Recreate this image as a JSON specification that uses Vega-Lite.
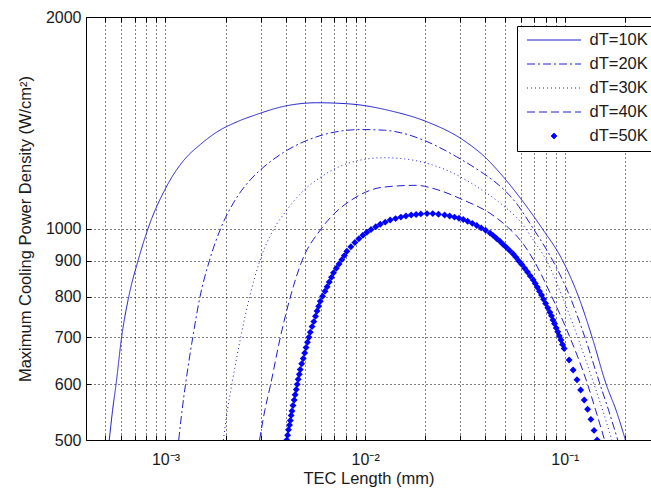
{
  "$schema": "https://vega.github.io/schema/vega-lite/v6.json",
  "width": 565,
  "height": 423,
  "autosize": {"type": "none"},
  "padding": {"left": 86, "top": 17, "right": 0, "bottom": 53},
  "background": "white",
  "config": {
    "font": "Liberation Sans",
    "view": {"stroke": "#000", "strokeWidth": 1},
    "axis": {
      "labelFont": "Liberation Sans", "labelFontSize": 16, "labelColor": "#1a1a1a",
      "titleFont": "Liberation Sans", "titleFontSize": 16.5, "titleFontWeight": "normal", "titleColor": "#1a1a1a",
      "domain": false, "tickColor": "#000", "tickSize": -5, "tickWidth": 1,
      "gridColor": "#000", "gridDash": [1, 3], "gridOpacity": 1, "gridWidth": 1,
      "labelOverlap": false, "labelFlush": false, "labelBound": false
    }
  },
  "datasets": {
    "lines": [
      {"s": "dT=10K", "x": 0.000523, "y": 500},
      {"s": "dT=10K", "x": 0.000543, "y": 550},
      {"s": "dT=10K", "x": 0.0005655, "y": 600},
      {"s": "dT=10K", "x": 0.000603, "y": 700},
      {"s": "dT=10K", "x": 0.000655, "y": 800},
      {"s": "dT=10K", "x": 0.000729, "y": 900},
      {"s": "dT=10K", "x": 0.000818, "y": 1000},
      {"s": "dT=10K", "x": 0.001, "y": 1140},
      {"s": "dT=10K", "x": 0.001234, "y": 1250},
      {"s": "dT=10K", "x": 0.0015, "y": 1318},
      {"s": "dT=10K", "x": 0.00181, "y": 1372},
      {"s": "dT=10K", "x": 0.0023, "y": 1420},
      {"s": "dT=10K", "x": 0.0028, "y": 1450},
      {"s": "dT=10K", "x": 0.0039, "y": 1492},
      {"s": "dT=10K", "x": 0.00573, "y": 1510},
      {"s": "dT=10K", "x": 0.00841, "y": 1504},
      {"s": "dT=10K", "x": 0.01334, "y": 1471},
      {"s": "dT=10K", "x": 0.02035, "y": 1419},
      {"s": "dT=10K", "x": 0.031, "y": 1336},
      {"s": "dT=10K", "x": 0.04, "y": 1262},
      {"s": "dT=10K", "x": 0.0491, "y": 1185},
      {"s": "dT=10K", "x": 0.062, "y": 1090},
      {"s": "dT=10K", "x": 0.077, "y": 1000},
      {"s": "dT=10K", "x": 0.0975, "y": 900},
      {"s": "dT=10K", "x": 0.117, "y": 800},
      {"s": "dT=10K", "x": 0.137, "y": 700},
      {"s": "dT=10K", "x": 0.161, "y": 600},
      {"s": "dT=10K", "x": 0.181, "y": 550},
      {"s": "dT=10K", "x": 0.201, "y": 500},

      {"s": "dT=20K", "x": 0.001165, "y": 500},
      {"s": "dT=20K", "x": 0.00121, "y": 550},
      {"s": "dT=20K", "x": 0.00126, "y": 600},
      {"s": "dT=20K", "x": 0.00137, "y": 700},
      {"s": "dT=20K", "x": 0.00149, "y": 800},
      {"s": "dT=20K", "x": 0.00166, "y": 900},
      {"s": "dT=20K", "x": 0.00189, "y": 1000},
      {"s": "dT=20K", "x": 0.0022, "y": 1090},
      {"s": "dT=20K", "x": 0.00266, "y": 1173},
      {"s": "dT=20K", "x": 0.003, "y": 1213},
      {"s": "dT=20K", "x": 0.0039, "y": 1283},
      {"s": "dT=20K", "x": 0.00573, "y": 1351},
      {"s": "dT=20K", "x": 0.0075, "y": 1376},
      {"s": "dT=20K", "x": 0.0095, "y": 1383},
      {"s": "dT=20K", "x": 0.0125, "y": 1380},
      {"s": "dT=20K", "x": 0.0155, "y": 1366},
      {"s": "dT=20K", "x": 0.0196, "y": 1336},
      {"s": "dT=20K", "x": 0.0287, "y": 1265},
      {"s": "dT=20K", "x": 0.039, "y": 1198},
      {"s": "dT=20K", "x": 0.043, "y": 1175},
      {"s": "dT=20K", "x": 0.0573, "y": 1085},
      {"s": "dT=20K", "x": 0.0694, "y": 1000},
      {"s": "dT=20K", "x": 0.087, "y": 900},
      {"s": "dT=20K", "x": 0.106, "y": 800},
      {"s": "dT=20K", "x": 0.126, "y": 700},
      {"s": "dT=20K", "x": 0.15, "y": 600},
      {"s": "dT=20K", "x": 0.166, "y": 550},
      {"s": "dT=20K", "x": 0.184, "y": 500},

      {"s": "dT=30K", "x": 0.00195, "y": 500},
      {"s": "dT=30K", "x": 0.00204, "y": 550},
      {"s": "dT=30K", "x": 0.00215, "y": 600},
      {"s": "dT=30K", "x": 0.00238, "y": 700},
      {"s": "dT=30K", "x": 0.00264, "y": 800},
      {"s": "dT=30K", "x": 0.00297, "y": 900},
      {"s": "dT=30K", "x": 0.0035, "y": 1000},
      {"s": "dT=30K", "x": 0.00403, "y": 1060},
      {"s": "dT=30K", "x": 0.0048, "y": 1125},
      {"s": "dT=30K", "x": 0.0059, "y": 1180},
      {"s": "dT=30K", "x": 0.0078, "y": 1232},
      {"s": "dT=30K", "x": 0.0102, "y": 1256},
      {"s": "dT=30K", "x": 0.0123, "y": 1261},
      {"s": "dT=30K", "x": 0.015, "y": 1258},
      {"s": "dT=30K", "x": 0.0204, "y": 1238},
      {"s": "dT=30K", "x": 0.0266, "y": 1205},
      {"s": "dT=30K", "x": 0.0362, "y": 1147},
      {"s": "dT=30K", "x": 0.0491, "y": 1078},
      {"s": "dT=30K", "x": 0.06, "y": 1022},
      {"s": "dT=30K", "x": 0.07, "y": 960},
      {"s": "dT=30K", "x": 0.081, "y": 900},
      {"s": "dT=30K", "x": 0.097, "y": 800},
      {"s": "dT=30K", "x": 0.116, "y": 700},
      {"s": "dT=30K", "x": 0.14, "y": 600},
      {"s": "dT=30K", "x": 0.155, "y": 550},
      {"s": "dT=30K", "x": 0.172, "y": 500},

      {"s": "dT=40K", "x": 0.00296, "y": 500},
      {"s": "dT=40K", "x": 0.00314, "y": 550},
      {"s": "dT=40K", "x": 0.00335, "y": 597},
      {"s": "dT=40K", "x": 0.00376, "y": 700},
      {"s": "dT=40K", "x": 0.00422, "y": 799},
      {"s": "dT=40K", "x": 0.00483, "y": 900},
      {"s": "dT=40K", "x": 0.00596, "y": 995},
      {"s": "dT=40K", "x": 0.007, "y": 1050},
      {"s": "dT=40K", "x": 0.00841, "y": 1095},
      {"s": "dT=40K", "x": 0.0123, "y": 1145},
      {"s": "dT=40K", "x": 0.018, "y": 1152},
      {"s": "dT=40K", "x": 0.0229, "y": 1136},
      {"s": "dT=40K", "x": 0.031, "y": 1098},
      {"s": "dT=40K", "x": 0.0422, "y": 1051},
      {"s": "dT=40K", "x": 0.052, "y": 1003},
      {"s": "dT=40K", "x": 0.062, "y": 950},
      {"s": "dT=40K", "x": 0.07, "y": 900},
      {"s": "dT=40K", "x": 0.086, "y": 800},
      {"s": "dT=40K", "x": 0.106, "y": 700},
      {"s": "dT=40K", "x": 0.13, "y": 600},
      {"s": "dT=40K", "x": 0.143, "y": 550},
      {"s": "dT=40K", "x": 0.158, "y": 500}
    ],
    "points": [
      {"s": "dT=50K", "x": 0.00405, "y": 500},
      {"s": "dT=50K", "x": 0.00409, "y": 508},
      {"s": "dT=50K", "x": 0.00413, "y": 517},
      {"s": "dT=50K", "x": 0.00418, "y": 525},
      {"s": "dT=50K", "x": 0.00422, "y": 533},
      {"s": "dT=50K", "x": 0.00426, "y": 542},
      {"s": "dT=50K", "x": 0.0043, "y": 550},
      {"s": "dT=50K", "x": 0.00435, "y": 560},
      {"s": "dT=50K", "x": 0.00441, "y": 570},
      {"s": "dT=50K", "x": 0.00446, "y": 580},
      {"s": "dT=50K", "x": 0.00452, "y": 590},
      {"s": "dT=50K", "x": 0.00457, "y": 600},
      {"s": "dT=50K", "x": 0.00462, "y": 610},
      {"s": "dT=50K", "x": 0.00468, "y": 620},
      {"s": "dT=50K", "x": 0.00473, "y": 630},
      {"s": "dT=50K", "x": 0.00481, "y": 642},
      {"s": "dT=50K", "x": 0.0049, "y": 653},
      {"s": "dT=50K", "x": 0.00498, "y": 665},
      {"s": "dT=50K", "x": 0.00506, "y": 677},
      {"s": "dT=50K", "x": 0.00514, "y": 689},
      {"s": "dT=50K", "x": 0.00523, "y": 700},
      {"s": "dT=50K", "x": 0.00531, "y": 712},
      {"s": "dT=50K", "x": 0.00542, "y": 725},
      {"s": "dT=50K", "x": 0.00553, "y": 737},
      {"s": "dT=50K", "x": 0.00564, "y": 750},
      {"s": "dT=50K", "x": 0.00574, "y": 763},
      {"s": "dT=50K", "x": 0.00585, "y": 775},
      {"s": "dT=50K", "x": 0.00596, "y": 788},
      {"s": "dT=50K", "x": 0.00612, "y": 801},
      {"s": "dT=50K", "x": 0.00629, "y": 814},
      {"s": "dT=50K", "x": 0.00645, "y": 826},
      {"s": "dT=50K", "x": 0.00661, "y": 839},
      {"s": "dT=50K", "x": 0.00678, "y": 852},
      {"s": "dT=50K", "x": 0.00694, "y": 865},
      {"s": "dT=50K", "x": 0.00717, "y": 878},
      {"s": "dT=50K", "x": 0.0074, "y": 890},
      {"s": "dT=50K", "x": 0.00764, "y": 903},
      {"s": "dT=50K", "x": 0.00787, "y": 915},
      {"s": "dT=50K", "x": 0.0081, "y": 928},
      {"s": "dT=50K", "x": 0.00848, "y": 942},
      {"s": "dT=50K", "x": 0.00888, "y": 955},
      {"s": "dT=50K", "x": 0.0093, "y": 967},
      {"s": "dT=50K", "x": 0.00974, "y": 978},
      {"s": "dT=50K", "x": 0.0102, "y": 988},
      {"s": "dT=50K", "x": 0.0107, "y": 997},
      {"s": "dT=50K", "x": 0.0113, "y": 1006},
      {"s": "dT=50K", "x": 0.0119, "y": 1014},
      {"s": "dT=50K", "x": 0.0126, "y": 1021},
      {"s": "dT=50K", "x": 0.01334, "y": 1028},
      {"s": "dT=50K", "x": 0.0142, "y": 1033},
      {"s": "dT=50K", "x": 0.0151, "y": 1038},
      {"s": "dT=50K", "x": 0.016, "y": 1042},
      {"s": "dT=50K", "x": 0.017, "y": 1045},
      {"s": "dT=50K", "x": 0.018, "y": 1047},
      {"s": "dT=50K", "x": 0.019, "y": 1049},
      {"s": "dT=50K", "x": 0.0204, "y": 1050},
      {"s": "dT=50K", "x": 0.0218, "y": 1050},
      {"s": "dT=50K", "x": 0.0233, "y": 1048},
      {"s": "dT=50K", "x": 0.025, "y": 1045},
      {"s": "dT=50K", "x": 0.0265, "y": 1042},
      {"s": "dT=50K", "x": 0.028, "y": 1038},
      {"s": "dT=50K", "x": 0.0295, "y": 1034},
      {"s": "dT=50K", "x": 0.031, "y": 1030},
      {"s": "dT=50K", "x": 0.0326, "y": 1024},
      {"s": "dT=50K", "x": 0.0344, "y": 1017},
      {"s": "dT=50K", "x": 0.0362, "y": 1010},
      {"s": "dT=50K", "x": 0.0381, "y": 1002},
      {"s": "dT=50K", "x": 0.0401, "y": 994},
      {"s": "dT=50K", "x": 0.0422, "y": 985},
      {"s": "dT=50K", "x": 0.0438, "y": 977},
      {"s": "dT=50K", "x": 0.0455, "y": 968},
      {"s": "dT=50K", "x": 0.0473, "y": 959},
      {"s": "dT=50K", "x": 0.0491, "y": 949},
      {"s": "dT=50K", "x": 0.051, "y": 940},
      {"s": "dT=50K", "x": 0.053, "y": 930},
      {"s": "dT=50K", "x": 0.0551, "y": 920},
      {"s": "dT=50K", "x": 0.0569, "y": 910},
      {"s": "dT=50K", "x": 0.0588, "y": 899},
      {"s": "dT=50K", "x": 0.0608, "y": 889},
      {"s": "dT=50K", "x": 0.0629, "y": 878},
      {"s": "dT=50K", "x": 0.065, "y": 867},
      {"s": "dT=50K", "x": 0.0671, "y": 856},
      {"s": "dT=50K", "x": 0.0694, "y": 845},
      {"s": "dT=50K", "x": 0.0711, "y": 835},
      {"s": "dT=50K", "x": 0.0728, "y": 825},
      {"s": "dT=50K", "x": 0.0746, "y": 814},
      {"s": "dT=50K", "x": 0.0764, "y": 804},
      {"s": "dT=50K", "x": 0.0782, "y": 793},
      {"s": "dT=50K", "x": 0.0801, "y": 782},
      {"s": "dT=50K", "x": 0.0821, "y": 771},
      {"s": "dT=50K", "x": 0.0841, "y": 760},
      {"s": "dT=50K", "x": 0.0857, "y": 751},
      {"s": "dT=50K", "x": 0.0872, "y": 741},
      {"s": "dT=50K", "x": 0.0888, "y": 732},
      {"s": "dT=50K", "x": 0.0905, "y": 722},
      {"s": "dT=50K", "x": 0.0921, "y": 713},
      {"s": "dT=50K", "x": 0.0938, "y": 703},
      {"s": "dT=50K", "x": 0.0956, "y": 694},
      {"s": "dT=50K", "x": 0.0973, "y": 684},
      {"s": "dT=50K", "x": 0.0992, "y": 675},
      {"s": "dT=50K", "x": 0.105, "y": 650},
      {"s": "dT=50K", "x": 0.11, "y": 629},
      {"s": "dT=50K", "x": 0.115, "y": 609},
      {"s": "dT=50K", "x": 0.12, "y": 589},
      {"s": "dT=50K", "x": 0.125, "y": 570},
      {"s": "dT=50K", "x": 0.13, "y": 553},
      {"s": "dT=50K", "x": 0.135, "y": 535},
      {"s": "dT=50K", "x": 0.14, "y": 516},
      {"s": "dT=50K", "x": 0.145, "y": 500}
    ]
  },
  "resolve": {"axis": {"x": "independent"}},
  "layer": [
    {
      "data": {"name": "lines"},
      "mark": {"type": "line", "interpolate": "monotone", "clip": true, "color": "#1f1fd0", "strokeWidth": 1},
      "encoding": {
        "x": {
          "field": "x", "type": "quantitative",
          "scale": {"type": "log", "domain": [0.0004, 0.27], "nice": false},
          "axis": {
            "orient": "bottom",
            "grid": true,
            "values": [0.0005, 0.0006, 0.0007, 0.0008, 0.0009, 0.001, 0.002, 0.003, 0.004, 0.005, 0.006, 0.007, 0.008, 0.009, 0.01, 0.02, 0.03, 0.04, 0.05, 0.06, 0.07, 0.08, 0.09, 0.1, 0.2],
            "labelExpr": "datum.value === 0.001 ? '10⁻³' : datum.value === 0.01 ? '10⁻²' : datum.value === 0.1 ? '10⁻¹' : ''",
            "labelPadding": 16,
            "title": "TEC Length (mm)",
            "titlePadding": 3
          }
        },
        "y": {
          "field": "y", "type": "quantitative",
          "scale": {"type": "log", "domain": [500, 2000], "nice": false},
          "axis": {
            "grid": true,
            "values": [500, 600, 700, 800, 900, 1000, 2000],
            "format": "d",
            "labelPadding": 10,
            "title": "Maximum Cooling Power Density (W/cm²)",
            "titlePadding": 12
          }
        },
        "strokeDash": {
          "field": "s", "type": "nominal",
          "scale": {
            "domain": ["dT=10K", "dT=20K", "dT=30K", "dT=40K", "dT=50K"],
            "range": [[1, 0], [8, 3, 2, 3], [1, 3], [8, 4], [1, 0]]
          },
          "legend": {
            "orient": "none", "legendX": 431, "legendY": 9,
            "title": null,
            "strokeColor": "#000", "fillColor": "#fff", "padding": 6, "cornerRadius": 0,
            "symbolType": "stroke", "symbolSize": 2916, "symbolStrokeWidth": 1, "symbolStrokeColor": "#1f1fd0",
            "clipHeight": 16, "rowPadding": 7, "labelOffset": 8, "symbolOffset": 3.5,
            "labelFont": "Liberation Sans", "labelFontSize": 16.5, "labelColor": "#1a1a1a", "labelLimit": 200,
            "encode": {
              "symbols": {
                "update": {
                  "shape": {"signal": "datum.value === 'dT=50K' ? 'diamond' : 'stroke'"},
                  "size": {"signal": "datum.value === 'dT=50K' ? 36 : 2916"},
                  "fill": {"signal": "datum.value === 'dT=50K' ? '#0000ff' : 'transparent'"},
                  "stroke": {"signal": "datum.value === 'dT=50K' ? '#0000ff' : '#1f1fd0'"},
                  "strokeWidth": {"value": 1}
                }
              }
            }
          }
        }
      }
    },
    {
      "data": {"name": "points"},
      "mark": {"type": "point", "shape": "diamond", "filled": true, "color": "#0000ff", "size": 48, "opacity": 1, "clip": true},
      "encoding": {
        "x": {
          "field": "x", "type": "quantitative",
          "axis": {
            "orient": "top", "grid": false, "labels": false, "title": null,
            "values": [0.0005, 0.0006, 0.0007, 0.0008, 0.0009, 0.001, 0.002, 0.003, 0.004, 0.005, 0.006, 0.007, 0.008, 0.009, 0.01, 0.02, 0.03, 0.04, 0.05, 0.06, 0.07, 0.08, 0.09, 0.1, 0.2]
          }
        },
        "y": {"field": "y", "type": "quantitative"}
      }
    }
  ]
}
